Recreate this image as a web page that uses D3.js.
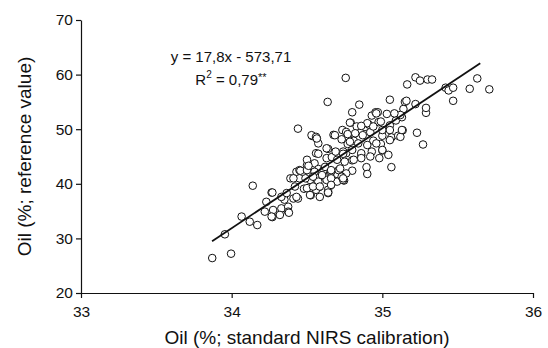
<!DOCTYPE html>
<html>
<head>
<meta charset="utf-8">
<script src="https://cdn.jsdelivr.net/npm/d3@7"></script>
<style>
  body { margin: 0; background: #fff; }
  svg { display: block; font-family: "Liberation Sans", Arial, sans-serif; }
</style>
</head>
<body>
<div id="chart"></div>
<script>
// x: standard NIRS calibration, y: reference value
const nirsX = [
  33.871, 33.955, 33.996, 34.066, 34.12, 34.17, 34.14, 34.23, 34.265, 34.22,
  34.275, 34.27, 34.33, 34.375, 34.265, 34.32, 34.375, 34.38, 34.35, 34.41,
  34.44, 34.42, 34.39, 34.43, 34.45, 34.44, 34.456, 34.48, 34.50, 34.55,
  34.52, 34.575, 34.64, 34.525, 34.535, 34.565, 34.575, 34.56, 34.58, 34.576,
  34.61, 34.637, 34.64, 34.63, 34.64, 34.66, 34.676, 34.665, 34.70, 34.685,
  34.735, 34.757, 34.746, 34.76, 34.77, 34.77, 34.79, 34.80, 34.83, 34.847,
  34.80, 34.80, 34.81, 34.86, 34.895, 34.90, 34.885, 34.91, 34.93, 34.955,
  34.97, 34.92, 34.94, 34.975, 34.99, 35.0, 35.0, 35.03, 35.05, 35.05,
  35.06, 35.06, 35.09, 35.105, 35.13, 35.135, 35.14, 35.15, 35.165, 35.16,
  35.22, 35.22, 35.23, 35.25, 35.27, 35.29, 35.30, 35.33, 35.29, 35.42,
  35.44, 35.47, 35.47, 35.58, 35.63, 35.71, 35.12, 34.96, 35.08, 34.785,
  34.90, 34.99, 34.86, 34.94, 35.0, 34.53, 34.56, 34.76, 34.82, 34.87,
  34.73, 34.785, 34.84, 34.90, 34.96, 35.05, 35.12, 35.05, 35.13, 34.63,
  34.69, 34.74, 34.80, 34.86, 34.93, 35.0, 35.04, 34.575, 34.50, 34.70,
  34.75, 34.81, 34.86, 34.92, 34.98, 34.50, 34.55, 34.61, 34.66, 34.71,
  34.76, 34.45, 34.52, 34.575, 34.63, 34.70, 34.74, 34.50, 34.56, 34.64,
  34.585, 34.52, 34.565, 34.77, 34.74, 34.51, 34.62, 34.66, 34.72, 34.41,
  34.49, 34.54, 34.60, 34.66, 34.73, 34.27, 34.33, 34.365, 34.43, 34.54,
  34.585, 34.64, 34.66, 34.74
];
const refY = [
  26.4, 30.75, 27.2, 34.0, 33.06, 32.45, 39.65, 36.7, 38.4, 34.9,
  35.2, 33.9, 35.5, 35.8, 34.0, 34.3, 34.9, 34.7, 37.1, 37.3,
  37.3, 39.5, 41.0, 42.2, 42.5, 50.1, 42.4, 39.1, 43.4, 43.75,
  41.9, 39.8, 38.55, 37.9, 48.75, 48.3, 47.4, 45.6, 39.4, 42.7,
  41.5, 55.0, 46.4, 44.7, 38.3, 39.8, 48.96, 44.9, 41.8, 48.9,
  49.85, 59.4, 40.6, 45.6, 48.7, 47.3, 51.2, 53.1, 50.5, 54.5,
  42.4, 44.3, 47.9, 45.2, 43.05, 41.8, 50.4, 50.85, 52.5, 53.1,
  53.1, 49.45, 47.9, 51.3, 47.3, 46.1, 48.8, 52.8, 50.7, 55.4,
  48.5, 43.05, 51.6, 48.8, 52.2, 49.8, 53.7, 55.0, 58.2, 55.2,
  59.5, 54.6, 49.35, 58.9, 47.2, 53.0, 59.1, 59.1, 53.9, 57.6,
  57.1, 55.2, 57.6, 57.4, 59.3, 57.3, 52.6, 52.9, 52.9, 51.2,
  51.1, 51.4, 50.6, 50.5, 49.85, 48.9, 48.6, 49.5, 49.25, 48.9,
  48.15, 47.7, 47.4, 47.1, 47.4, 48.0, 48.6, 49.85, 49.85, 46.5,
  45.9, 45.9, 46.2, 45.6, 45.9, 46.2, 45.3, 45.5, 44.4, 44.4,
  44.05, 44.4, 44.7, 45.0, 44.7, 42.5, 42.2, 42.5, 42.2, 42.5,
  41.9, 41.0, 40.7, 40.4, 40.7, 40.4, 40.7, 39.2, 38.9, 38.9,
  37.6, 37.95, 48.3, 49.1, 45.5, 43.3, 43.1, 42.5, 42.8, 41.0,
  41.0, 41.3, 41.6, 41.0, 41.3, 38.4, 37.6, 38.3, 37.6, 39.5,
  39.5, 38.4, 39.8, 41.0
];

// fitted line as drawn, ends
const fitX = [33.87, 35.65];
const fitY = [29.5, 62.1];

const xTicks = [33, 34, 35, 36];
const yTicks = [20, 30, 40, 50, 60, 70];

const width = 548, height = 348;
const margin = {top: 20, right: 15, bottom: 55, left: 81};

const svg = d3.select('#chart').append('svg')
  .attr('width', width)
  .attr('height', height);

const x = d3.scaleLinear().domain([33, 36]).range([margin.left, width - margin.right]);
const y = d3.scaleLinear().domain([20, 70]).range([height - margin.bottom, margin.top]);

// axes
const xAxis = svg.append('g')
  .attr('transform', 'translate(0,' + y(20) + ')')
  .call(d3.axisBottom(x).tickValues(xTicks).tickFormat(d3.format('d'))
    .tickSize(5).tickSizeOuter(0).tickPadding(8));

const yAxis = svg.append('g')
  .attr('transform', 'translate(' + x(33) + ',0)')
  .call(d3.axisLeft(y).tickValues(yTicks).tickFormat(d3.format('d'))
    .tickSize(5).tickSizeOuter(0).tickPadding(3));

[xAxis, yAxis].forEach(g => {
  g.selectAll('path, line').attr('stroke', '#111').attr('stroke-width', 1.2);
  g.selectAll('text').attr('fill', '#111').style('font-size', '15.5px')
    .style('font-family', '"Liberation Sans", Arial, sans-serif');
});

// points
svg.append('g').attr('class', 'points')
  .selectAll('circle')
  .data(nirsX.map((v, i) => [v, refY[i]]))
  .enter().append('circle')
  .attr('cx', d => x(d[0]))
  .attr('cy', d => y(d[1]))
  .attr('r', 3.8)
  .style('fill', '#fff')
  .style('stroke', '#111')
  .style('stroke-width', '1px');

// regression line
svg.append('line')
  .attr('x1', x(fitX[0])).attr('y1', y(fitY[0]))
  .attr('x2', x(fitX[1])).attr('y2', y(fitY[1]))
  .style('stroke', '#111')
  .style('stroke-width', '1.8px');

// equation
const eq = svg.append('g').style('font-size', '15px').attr('fill', '#111');
eq.append('text')
  .attr('x', 231).attr('y', 62)
  .attr('text-anchor', 'middle')
  .text('y = 17,8x - 573,71');
const r2 = eq.append('text')
  .attr('x', 231).attr('y', 85)
  .attr('text-anchor', 'middle');
r2.append('tspan').text('R');
r2.append('tspan').attr('dy', -7).style('font-size', '10px').text('2');
r2.append('tspan').attr('dy', 7).text(' = 0,79');
r2.append('tspan').attr('dy', -4).style('font-size', '11px').text('**');

// axis titles
svg.append('text')
  .attr('x', (x(33) + x(36)) / 2)
  .attr('y', 344)
  .attr('text-anchor', 'middle')
  .style('font-size', '19px')
  .attr('fill', '#111')
  .text('Oil (%; standard NIRS calibration)');

svg.append('text')
  .attr('transform', 'translate(31,' + (y(45)) + ') rotate(-90)')
  .attr('text-anchor', 'middle')
  .style('font-size', '19px')
  .attr('fill', '#111')
  .text('Oil (%; reference value)');
</script>
</body>
</html>
